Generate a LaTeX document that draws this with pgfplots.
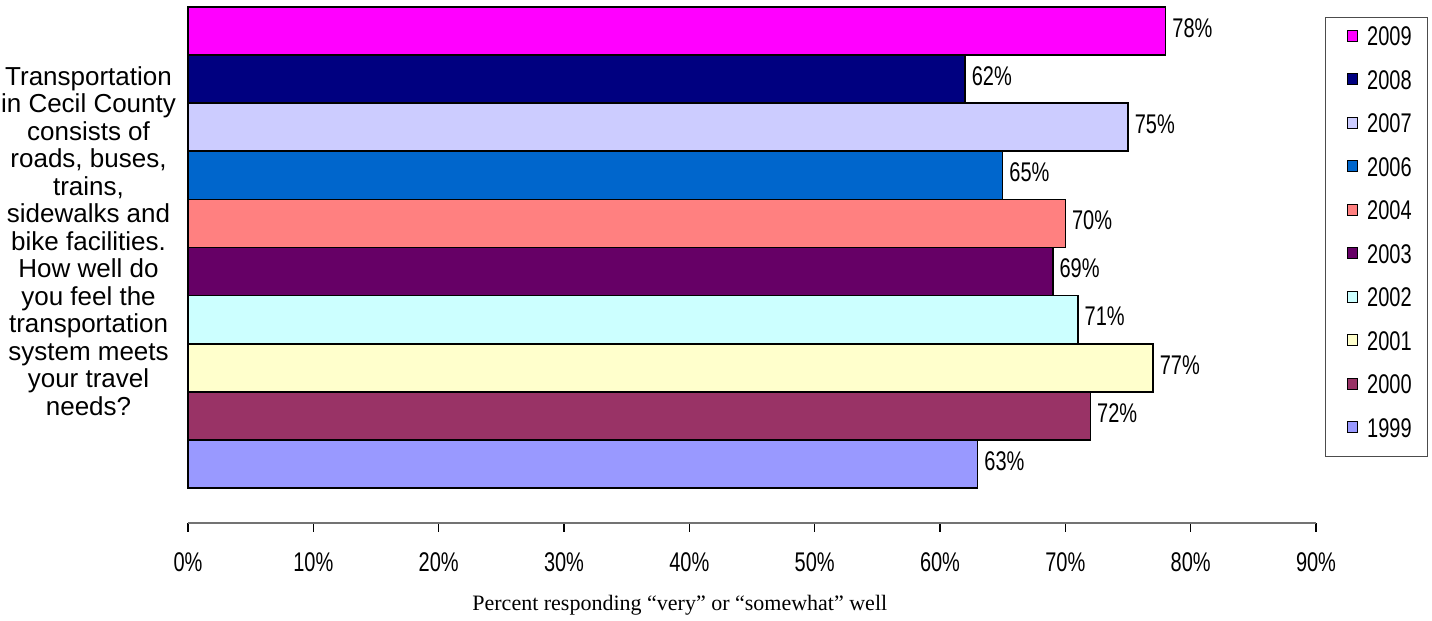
\documentclass[border=0pt]{standalone}
\usepackage{fontspec}
\setmainfont{Liberation Sans}
\newfontfamily\seriffont{Liberation Serif}
\newfontfamily\narrowfont[FakeStretch=0.74]{Liberation Sans}
\usepackage{pgfplots}
\pgfplotsset{compat=1.18}
\newcommand\nfont{\narrowfont\fontsize{13.5pt}{16pt}\selectfont}
\newcommand\qfont{\fontsize{13pt}{13.75pt}\selectfont}
\definecolor{c2009}{HTML}{FF00FF}
\definecolor{c2008}{HTML}{000080}
\definecolor{c2007}{HTML}{CCCCFF}
\definecolor{c2006}{HTML}{0066CC}
\definecolor{c2004}{HTML}{FF8080}
\definecolor{c2003}{HTML}{660066}
\definecolor{c2002}{HTML}{CCFFFF}
\definecolor{c2001}{HTML}{FFFFCC}
\definecolor{c2000}{HTML}{993366}
\definecolor{c1999}{HTML}{9999FF}
\begin{document}
\begin{tikzpicture}[x=1pt,y=1pt]
\useasboundingbox (0,0) rectangle (716,310.5);
\begin{axis}[
  at={(94pt,49pt)}, anchor=south west,
  scale only axis, width=564pt, height=261.5pt,
  xmin=0, xmax=90, ymin=-1.227, ymax=9.645,
  xbar,
  every axis plot/.append style={bar shift=0pt, bar width=24.05pt, draw=black, line width=0.8pt},
  clip=false,
  axis x line=bottom, axis y line=none,
  x axis line style={-, draw=black!55, line width=0.7pt},
  xtick={0,10,...,90},
  xticklabels={0\%,10\%,20\%,30\%,40\%,50\%,60\%,70\%,80\%,90\%},
  xtick style={draw=black, line width=0.6pt},
  tick align=outside,
  major tick length=4.5pt,
  ytick=\empty,
  xticklabel style={font=\nfont, anchor=north, inner sep=0pt, yshift=-10pt},
  point meta=x,
  /pgf/number format/assume math mode=true,
  nodes near coords={\pgfmathprintnumber{\pgfplotspointmeta}\%},
  every node near coord/.append style={font=\nfont, anchor=west, inner sep=0pt, xshift=3pt, yshift=1.5pt, text=black},
  xlabel={Percent responding “very” or “somewhat” well},
  xlabel style={at={(axis description cs:0.436,0)}, anchor=base, yshift=-44pt, font=\seriffont\fontsize{11pt}{13pt}\selectfont},
  legend style={at={(1.008,0.9675)}, anchor=north west, draw=black!70, line width=0.6pt,
    font=\nfont, inner xsep=8pt, inner ysep=1pt, row sep=0pt, column sep=4.5pt,
    nodes={inner sep=0pt, minimum height=21.75pt, text depth=5pt}},
  legend cell align=left,
  legend image code/.code={\path[draw=none,fill=none] (0pt,0pt) -- (3pt,0pt);\draw[#1, draw=black, line width=0.6pt] (3pt,0pt) rectangle (8pt,5.5pt);},
]
\addplot[fill=c2009] coordinates {(78,9)};
\addlegendentry{2009}
\addplot[fill=c2008] coordinates {(62,8)};
\addlegendentry{2008}
\addplot[fill=c2007] coordinates {(75,7)};
\addlegendentry{2007}
\addplot[fill=c2006] coordinates {(65,6)};
\addlegendentry{2006}
\addplot[fill=c2004] coordinates {(70,5)};
\addlegendentry{2004}
\addplot[fill=c2003] coordinates {(69,4)};
\addlegendentry{2003}
\addplot[fill=c2002] coordinates {(71,3)};
\addlegendentry{2002}
\addplot[fill=c2001] coordinates {(77,2)};
\addlegendentry{2001}
\addplot[fill=c2000] coordinates {(72,1)};
\addlegendentry{2000}
\addplot[fill=c1999] coordinates {(63,0)};
\addlegendentry{1999}
\node[align=center, font=\qfont, anchor=north, inner sep=0pt] at (rel axis cs:-0.0882,0.874)
  {Transportation\\in Cecil County\\consists of\\roads, buses,\\trains,\\sidewalks and\\bike facilities.\\How well do\\you feel the\\transportation\\system meets\\your travel\\needs?};
\end{axis}
\end{tikzpicture}
\end{document}
